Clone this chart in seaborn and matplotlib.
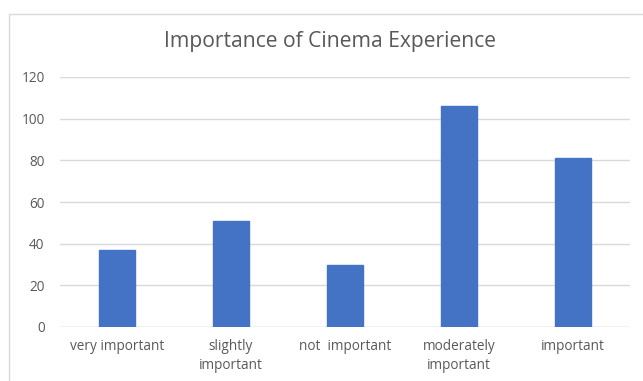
import matplotlib
matplotlib.use("Agg")
import matplotlib.pyplot as plt
import seaborn as sns
import pandas as pd
from matplotlib.patches import Rectangle

categories = ["very important", "slightly\nimportant", "not  important", "moderately\nimportant", "important"]
values = [37, 51, 30, 106, 81]
yticks = [0, 20, 40, 60, 80, 100, 120]

sns.set_theme(style="white")
plt.rcParams['font.family'] = ['Open Sans', 'DejaVu Sans']

df = pd.DataFrame({"category": categories, "value": values})

fig = plt.figure(figsize=(6.43, 3.81), dpi=100)
ax = fig.add_axes([60/643, 1-327/381, 570/643, 250/381])
sns.barplot(data=df, x="category", y="value", color="#4472C4", width=0.32,
            saturation=1, ax=ax, zorder=3, edgecolor="#4472C4")

ax.set_ylim(0, 120)
ax.set_yticks(yticks)
ax.set_xlim(-0.5, 4.5)
ax.yaxis.grid(True, color="#d9d9d9", linewidth=1, zorder=0)
for s in ax.spines.values():
    s.set_visible(False)
ax.axhline(0, color="#d9d9d9", linewidth=1, zorder=2)
ax.set_xlabel("")
ax.set_ylabel("")
ax.tick_params(axis="both", length=0, colors="#595959", labelsize=9.8)
ax.tick_params(axis="y", pad=11)
ax.tick_params(axis="x", pad=9)
for t in ax.get_xticklabels():
    t.set_linespacing(1.35)

fig.text(330/643, 1-42/381, "Importance of Cinema Experience", ha="center", va="center",
         fontsize=15.2, color="#595959")

fig.patches.append(Rectangle((9/643, -0.05), 1.0, 1-14/381+0.05, transform=fig.transFigure,
                             fill=False, edgecolor="#d9d9d9", linewidth=1))

fig.savefig("out.png", dpi=100)
